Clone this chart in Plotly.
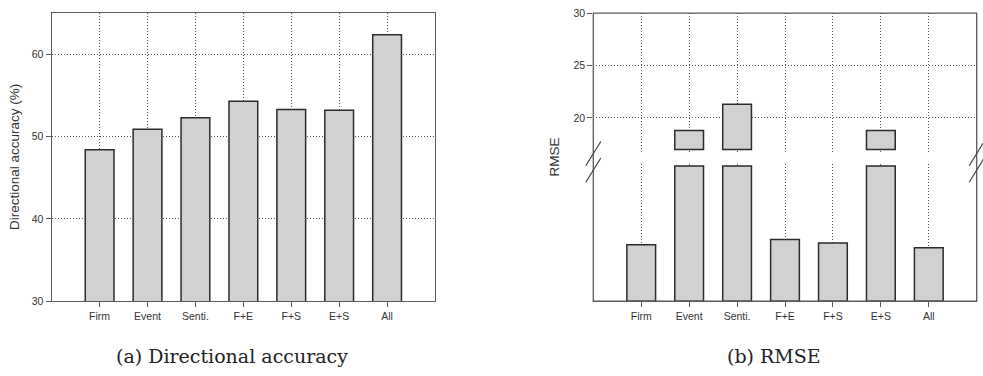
import plotly.graph_objects as go

W, H = 983, 376

categories = ["Firm", "Event", "Senti.", "F+E", "F+S", "E+S", "All"]
accuracy = [48.4, 50.9, 52.3, 54.3, 53.3, 53.2, 62.4]
# RMSE: values above the break read on the upper scale; others on the (unlabelled) lower scale
rmse = [6.67, 18.8, 21.3, 7.29, 6.90, 18.8, 6.33]
acc_ticks = [30, 40, 50, 60]
rmse_ticks = [20, 25, 30]
break_low = 17.0      # bottom of the upper (broken) segment
lower_cap = 16.0      # top of the lower segment

def px(x):
    return x / W

def py(y):
    return 1 - y / H

BAR_FILL = "#d0d1d3"
BAR_LINE = "#2b2b2b"
GRID = "#555555"
AXIS = "#5a5a5a"
TXT = "#333333"
FONT = "Liberation Sans"
DOT = "1px,2px"

fig = go.Figure()

# (a) directional accuracy
fig.add_trace(go.Bar(x=categories, y=accuracy, width=0.6, xaxis="x", yaxis="y",
                     marker=dict(color=BAR_FILL, line=dict(color=BAR_LINE, width=1.5)),
                     showlegend=False))

# (b) RMSE lower segment
lower_vals = [min(v, lower_cap) for v in rmse]
fig.add_trace(go.Bar(x=categories, y=lower_vals, width=0.6, xaxis="x2", yaxis="y3",
                     marker=dict(color=BAR_FILL, line=dict(color=BAR_LINE, width=1.5)),
                     showlegend=False))
# (b) RMSE upper segment
upper_vals = [(v - break_low) if v > break_low else None for v in rmse]
fig.add_trace(go.Bar(x=categories, y=upper_vals, base=break_low, width=0.6, xaxis="x3", yaxis="y2",
                     marker=dict(color=BAR_FILL, line=dict(color=BAR_LINE, width=1.5)),
                     showlegend=False))

tickfont = dict(family=FONT, size=10.5, color=TXT)

L_X = [51.7, 435.0]
L_Y = [7.0, 305.0]
R_X = [593.3, 976.7]
R_UP = [7.3, 150.3]
R_LO = [163.5, 305.0]

common_x = dict(type="category", range=[-1, 7], showgrid=True, gridcolor=GRID, griddash=DOT,
                gridwidth=1, zeroline=False, tickfont=tickfont, ticks="outside", ticklen=5,
                tickcolor=AXIS, tickwidth=1)

fig.update_layout(
    width=W, height=H, margin=dict(l=0, r=0, t=0, b=0),
    paper_bgcolor="white", plot_bgcolor="white",
    bargap=0.4,
    xaxis=dict(**common_x, domain=[px(L_X[0]), px(L_X[1])], anchor="y",
               showline=True, linecolor=AXIS, linewidth=1.3, mirror=True),
    yaxis=dict(domain=[py(L_Y[1]), py(L_Y[0])], range=[30, 65.06], anchor="x",
               tickvals=acc_ticks, showgrid=True, gridcolor=GRID, griddash=DOT, gridwidth=1,
               zeroline=False, tickfont=tickfont, ticks="outside", ticklen=5, tickcolor=AXIS,
               showline=True, linecolor=AXIS, linewidth=1.3, mirror=True),
    xaxis2=dict(**common_x, domain=[px(R_X[0]), px(R_X[1])], anchor="y3", showline=False),
    xaxis3=dict(type="category", range=[-1, 7], domain=[px(R_X[0]), px(R_X[1])], anchor="y2",
                showgrid=True, gridcolor=GRID, griddash=DOT, gridwidth=1,
                showticklabels=False, ticks="", showline=False, zeroline=False, matches="x2"),
    yaxis2=dict(domain=[py(R_UP[1]), py(R_UP[0])], range=[16.8, 30], anchor="x3",
                tickvals=rmse_ticks, showgrid=True, gridcolor=GRID, griddash=DOT, gridwidth=1,
                zeroline=False, tickfont=tickfont, ticks="outside", ticklen=5, tickcolor=AXIS,
                showline=False),
    yaxis3=dict(domain=[py(R_LO[1]), py(R_LO[0])], range=[0, 16.2], anchor="x2",
                showgrid=False, showticklabels=False, ticks="", zeroline=False, showline=False),
)

shapes = []
# frame of the broken-axis panel
shapes.append(dict(type="rect", xref="paper", yref="paper",
                   x0=px(R_X[0]), x1=px(R_X[1]), y0=py(R_LO[1]), y1=py(R_UP[0]),
                   line=dict(color=AXIS, width=1.3), fillcolor="rgba(0,0,0,0)", layer="above"))
# break marks
for xc in (R_X[0], R_X[1]):
    for yc in (152.5, 169.5):
        shapes.append(dict(type="line", xref="paper", yref="paper",
                           x0=px(xc - 7.5), y0=py(yc + 12.5), x1=px(xc + 7.5), y1=py(yc - 12.5),
                           line=dict(color="#444444", width=1.2), layer="above"))
fig.update_layout(shapes=shapes)

annotations = [
    dict(text="Directional accuracy (%)", x=px(14), y=py(156), xref="paper", yref="paper",
         textangle=-90, showarrow=False, xanchor="center", yanchor="middle",
         font=dict(family=FONT, size=13.5, color=TXT)),
    dict(text="RMSE", x=px(555), y=py(156.5), xref="paper", yref="paper",
         textangle=-90, showarrow=False, xanchor="center", yanchor="middle",
         font=dict(family=FONT, size=13.5, color=TXT)),
    dict(text="(a) Directional accuracy", x=px(232), y=py(362), xref="paper", yref="paper",
         showarrow=False, xanchor="center", yanchor="middle",
         font=dict(family="DejaVu Serif", size=19, color="#222222")),
    dict(text="(b) RMSE", x=px(773.5), y=py(362), xref="paper", yref="paper",
         showarrow=False, xanchor="center", yanchor="middle",
         font=dict(family="DejaVu Serif", size=19, color="#222222")),
]
fig.update_layout(annotations=annotations)

fig.write_html("out.html")
